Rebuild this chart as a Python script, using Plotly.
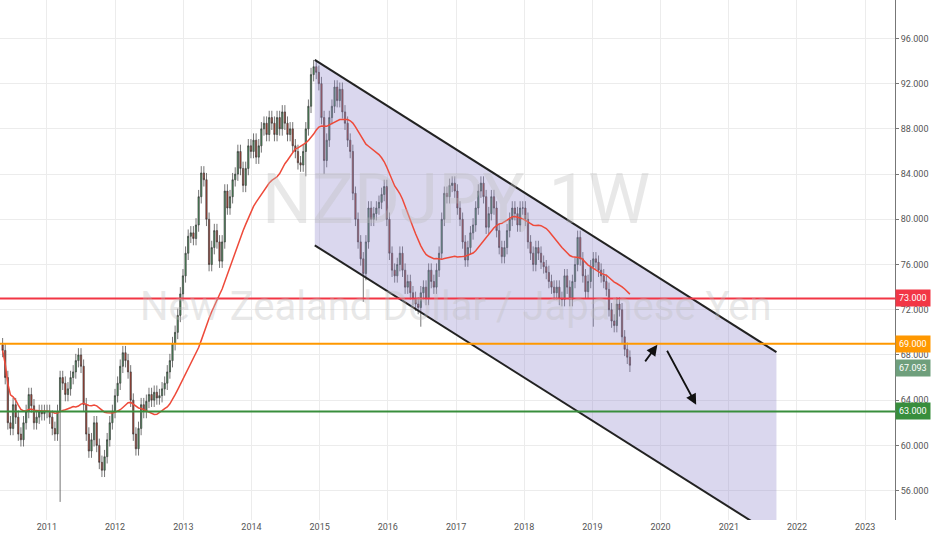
import pandas as pd
import plotly.graph_objects as go

# biweekly closes, NZD/JPY
closes = [
    # 2010 (from May)
    68.4, 66, 62, 61.5, 63.6, 62.5, 61, 60.5, 62, 63, 64.5, 63.5, 62, 62.5, 63, 62.8, 63,
    # 2011
    63, 62.5, 61.5, 61, 63, 66, 65.5, 64.5, 65, 66, 66.5, 67.5, 68, 67, 63.6, 61,
    59.5, 60.5, 62, 60, 58.5, 57.8, 59, 60.5, 62, 63,
    # 2012
    64.4, 65.5, 67, 68.2, 67.5, 66.5, 64, 61, 59.7, 61.5, 63.6, 63, 63.9, 64.5, 64, 64.7,
    64.2, 64.4, 65, 65.5, 66.5, 67.5, 69, 70, 71.5, 73.4,
    # 2013
    75, 77, 78.5, 78.8, 78.3, 79.5, 82, 84.1, 83.5, 80, 76, 77.5, 79, 78, 76.3, 78,
    82.5, 81, 82, 83.5, 84, 86, 84.5, 83, 84.5, 86.5,
    # 2014
    86, 87, 85.5, 86.5, 88, 88.5, 87.5, 89, 88.5, 87.5, 89, 88, 89.5, 88.5, 87.5, 88,
    86.5, 86, 85, 84.8, 86, 88, 90, 92.8, 93.5, 93,
    # 2015
    92, 89, 85.2, 87, 89, 90, 91.7, 90.5, 91.5, 89.5, 88.5, 87, 86, 82.3, 80, 78,
    76.5, 75.2, 78, 81, 80, 80.5, 81, 81.5, 82.2, 82.9,
    # 2016
    80, 77, 75.5, 75, 76, 77, 75.5, 74, 74.5, 73.5, 73, 72.5, 72.2, 73.5, 74, 73,
    75.5, 74.5, 74, 75.5, 77, 80, 82.3, 82, 83, 83.2,
    # 2017
    82.5, 81, 80, 78, 76.4, 77.5, 78.8, 79.5, 81, 82.5, 83.2, 82, 79.3, 80.5, 82, 81,
    79, 77.5, 76.7, 77.5, 79, 80, 81, 80.5, 79.5, 81,
    # 2018
    81, 80, 78, 77, 76, 77.5, 77, 76.2, 75.8, 75.3, 74.5, 74, 73.5, 74, 73, 72.9,
    75, 74, 72.9, 74.5, 76, 78.4, 76.5, 75, 73.6, 74.5,
    # 2019 (to Aug)
    75.8, 76.5, 76.2, 75.5, 75, 74.5, 73.8, 72, 71, 70.6, 72.5, 72, 69.6, 68.5, 67.8, 67.093,
]
first_open = 68.9
wick = 0.6
# bars with long shadows: date -> low
long_lows = {"2011-03-13": 55.0, "2015-08-23": 72.7, "2016-06-26": 70.5,
             "2019-01-06": 70.5, "2015-01-25": 84.0, "2014-10-19": 83.8}

levels = [73, 69, 63]
level_colors = ["#f23645", "#ff9800", "#388e3c"]

dates = pd.date_range("2010-05-09", periods=len(closes), freq="14D")
df = pd.DataFrame({"date": dates, "close": closes})
df["open"] = [first_open] + closes[:-1]
df["high"] = df[["open", "close"]].max(axis=1) + wick
df["low"] = df[["open", "close"]].min(axis=1) - wick
for d, lo in long_lows.items():
    i = (df["date"] - pd.Timestamp(d)).abs().idxmin()
    df.loc[i, "low"] = lo
df["ma"] = df["close"].rolling(28, min_periods=1).mean()

fig = go.Figure()

# descending channel
ch_x = ["2014-12-06", "2014-12-06", "2021-09-13", "2021-09-13"]
ch_y = [77.7, 94.1, 68.25, 51.9]
fig.add_trace(go.Scatter(x=ch_x + [ch_x[0]], y=ch_y + [ch_y[0]], fill="toself",
                         fillcolor="rgba(150,140,205,0.35)", line=dict(width=0),
                         mode="lines", hoverinfo="skip", showlegend=False))
fig.add_trace(go.Scatter(x=[ch_x[1], ch_x[2]], y=[ch_y[1], ch_y[2]], mode="lines",
                         line=dict(color="#222", width=2), showlegend=False))
fig.add_trace(go.Scatter(x=[ch_x[0], ch_x[3]], y=[ch_y[0], ch_y[3]], mode="lines",
                         line=dict(color="#222", width=2), showlegend=False))

fig.add_trace(go.Scatter(x=df["date"], y=df["ma"], mode="lines",
                         line=dict(color="#ee4a3a", width=1.5), showlegend=False))

fig.add_trace(go.Candlestick(
    x=df["date"], open=df["open"], high=df["high"], low=df["low"], close=df["close"],
    increasing=dict(fillcolor="#4c9a5f", line=dict(color="#3a3a3a", width=0.7)),
    decreasing=dict(fillcolor="#c4402d", line=dict(color="#3a3a3a", width=0.7)),
    whiskerwidth=0, showlegend=False))

for lv, c in zip(levels, level_colors):
    fig.add_hline(y=lv, line=dict(color=c, width=2))
    fig.add_annotation(x=1, xref="paper", y=lv, xanchor="left", text=f"{lv:.3f}",
                       showarrow=False, bgcolor=c, font=dict(color="white", size=9),
                       borderpad=3)
fig.add_annotation(x=1, xref="paper", y=closes[-1], xanchor="left", text=f"{closes[-1]:.3f}",
                   showarrow=False, bgcolor="#6f9f7c", font=dict(color="white", size=9),
                   borderpad=3, yshift=-3)

# projection arrows
for (x0, y0, x1, y1) in [("2019-10-05", 67.3, "2019-12-15", 68.9),
                         ("2020-02-01", 68.5, "2020-07-10", 63.6)]:
    fig.add_annotation(x=x1, y=y1, ax=x0, ay=y0, xref="x", yref="y", axref="x", ayref="y",
                       showarrow=True, arrowhead=2, arrowsize=1.2, arrowwidth=1.8,
                       arrowcolor="#111", text="")

# watermark
fig.add_annotation(x=0.51, y=0.70, xref="paper", yref="paper", text="NZDJPY, 1W",
                   showarrow=False, font=dict(size=70, color="rgba(190,190,190,0.35)",
                                              family="Roboto"))
fig.add_annotation(x=0.51, y=0.41, xref="paper", yref="paper",
                   text="New Zealand Dollar / Japanese Yen", showarrow=False,
                   font=dict(size=40, color="rgba(190,190,190,0.35)", family="Roboto"))

fig.update_layout(
    width=932, height=550, margin=dict(l=0, r=37, t=0, b=30),
    plot_bgcolor="white", paper_bgcolor="white",
    font=dict(family="Roboto", size=9, color="#555"),
    xaxis=dict(range=["2010-04-25", "2022-12-05"], rangeslider=dict(visible=False),
               showgrid=True, gridcolor="#ececec", dtick="M12", tickformat="%Y",
               ticks="", zeroline=False),
    yaxis=dict(side="right", range=[53.4, 99.4], tickvals=list(range(56, 97, 4)),
               tickformat=".3f", showgrid=True, gridcolor="#ececec", zeroline=False,
               showline=True, linecolor="#777", ticks="outside", ticklen=3,
               tickcolor="#777"),
)
fig.update_xaxes(range=["2010-04-25", "2023-06-10"])
fig.write_html("out.html", post_script="document.body.style.margin='0';",
               config={"displayModeBar": False})
